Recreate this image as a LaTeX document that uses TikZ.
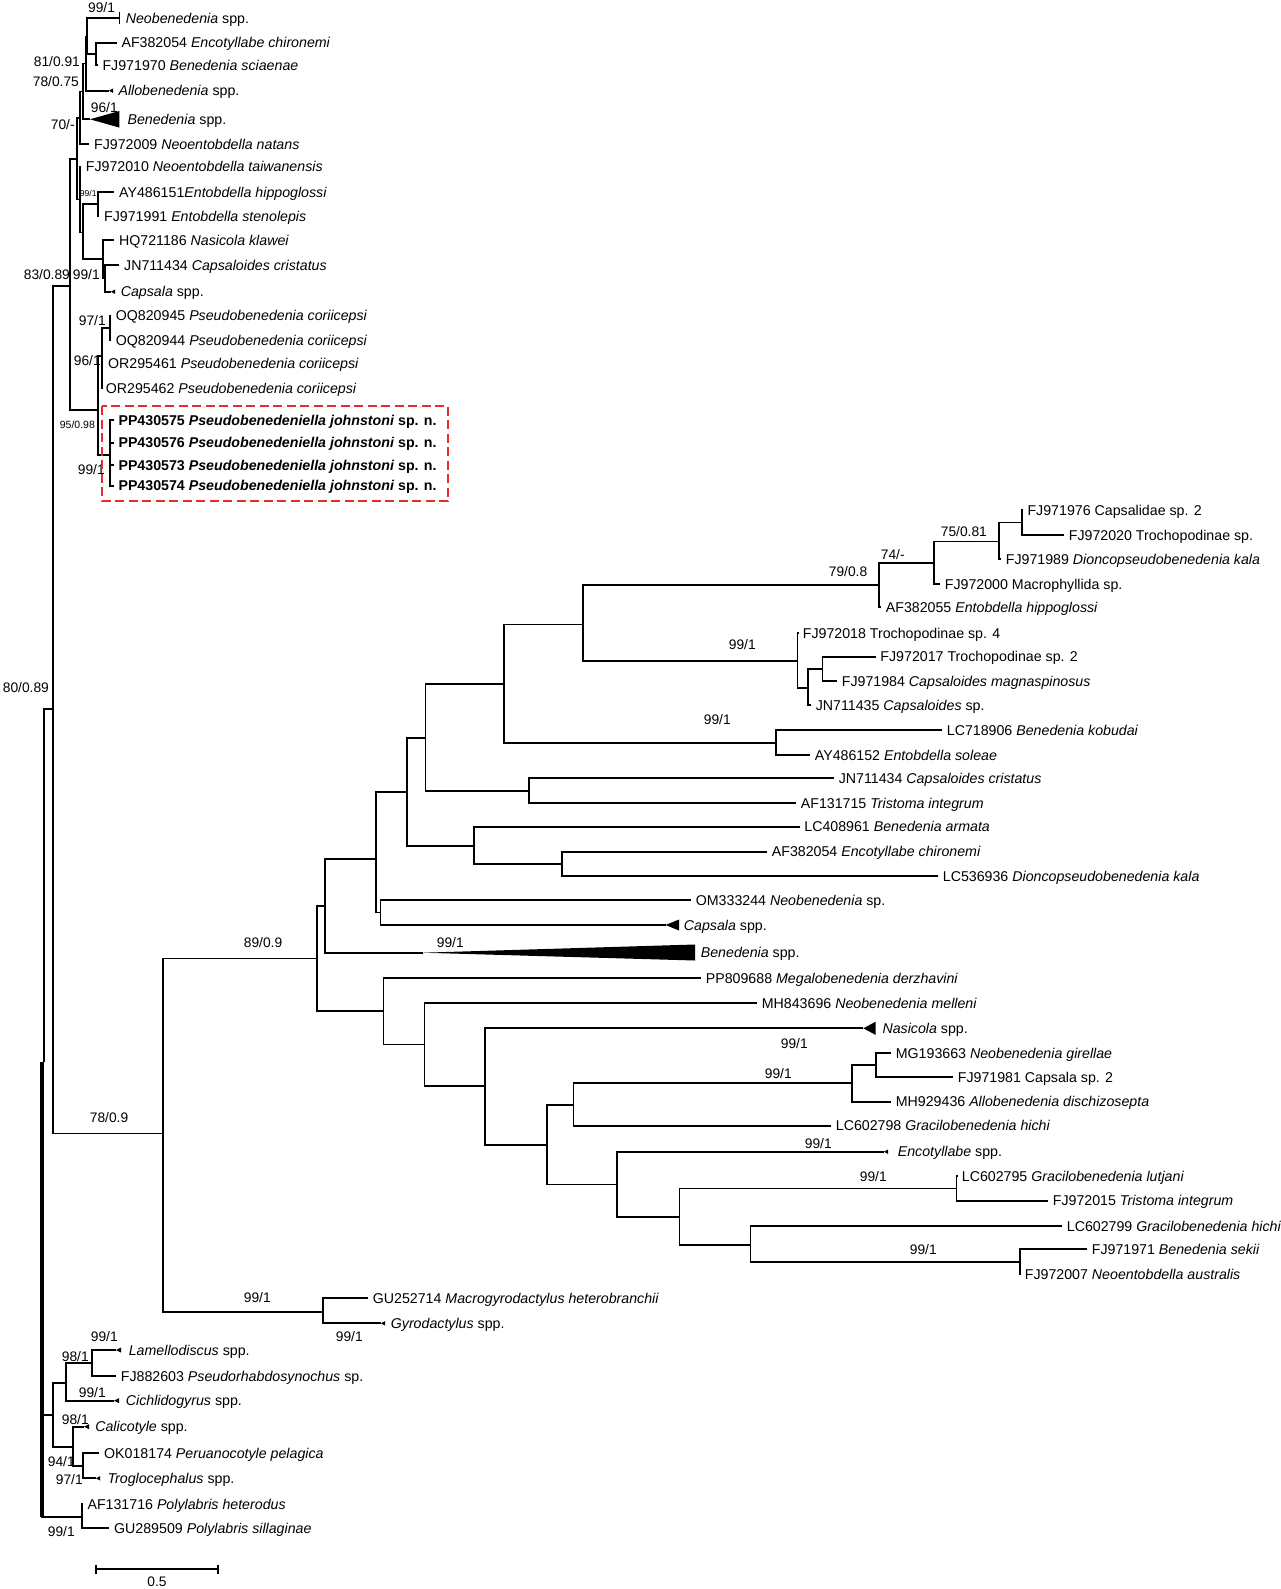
\documentclass[tikz,border=0pt]{standalone}
\usepackage{fontspec}
\setmainfont{Liberation Sans}
\definecolor{boxred}{RGB}{232,44,44}
\newcommand\tipfont{\fontsize{14.2}{16}\selectfont}
\newcommand\bsfont{\fontsize{13.8}{15}\selectfont}

\begin{document}
\begin{tikzpicture}[x=1pt,y=-1pt,line width=1.7pt,
  tip/.style={anchor=west,inner xsep=4pt,inner ysep=0pt,text height=10.2pt,text depth=0pt,font=\tipfont},
  pp/.style={tip,font=\tipfont\bfseries},
  bs/.style={anchor=west,inner sep=0pt,text height=9.9pt,text depth=0pt,font=\bsfont},
  bstiny/.style={bs,text height=6.2pt,font=\fontsize{8.6}{9}\selectfont},
  bssmall/.style={bs,text height=7.6pt,font=\fontsize{10.5}{11}\selectfont},
  box/.style={draw=boxred,line width=2.4pt,dash pattern=on 9pt off 4.5pt}]
\useasboundingbox (0,0) rectangle (1280,1589);

% internal nodes, upper clade
\coordinate (n80) at (53.3,709);
\coordinate (n83) at (70,286);
\coordinate (nF) at (77,159);
\coordinate (nE) at (80,118);
\coordinate (nD) at (82.7,91.5);
\coordinate (nC) at (86,63.5);
\coordinate (nA) at (87.3,36.5);
\coordinate (nB) at (96,54);
\coordinate (nG) at (80,199.6);
\coordinate (nH) at (83,232.5);
\coordinate (nI) at (98,204);
\coordinate (nJ) at (103,259);
\coordinate (nK) at (105,278.3);
\coordinate (n95) at (98,410);
\coordinate (n96) at (101.7,356);
\coordinate (n97) at (110,328);
\coordinate (nPP) at (110,455);
% internal nodes, long clade
\coordinate (n78) at (163.3,1133.5);
\coordinate (n89) at (317.2,958.5);
\coordinate (nX) at (324.9,906);
\coordinate (nZ) at (375.8,859);
\coordinate (nV) at (380.4,912.5);
\coordinate (nW) at (407.2,791.7);
\coordinate (nT) at (474,845.7);
\coordinate (nS) at (562,864);
\coordinate (nU) at (425.5,737.8);
\coordinate (nQ) at (528.9,791);
\coordinate (nR) at (503.7,684);
\coordinate (nO) at (776,742.7);
\coordinate (nP) at (583,624.5);
\coordinate (n79) at (879.3,585.3);
\coordinate (n74) at (934,563);
\coordinate (n75) at (999.3,541.5);
\coordinate (nCp) at (1021.7,522.5);
\coordinate (nA9) at (797.5,660.7);
\coordinate (nB9) at (808,688.3);
\coordinate (nC9) at (822.5,668.8);
\coordinate (nY) at (383.4,1011);
\coordinate (nN) at (424.4,1044.5);
\coordinate (nM) at (484.8,1086);
\coordinate (nL) at (547.3,1145);
\coordinate (nK2) at (573.6,1105);
\coordinate (nI2) at (851.7,1083.3);
\coordinate (nH2) at (876,1065);
\coordinate (nJ2) at (617.3,1184.5);
\coordinate (nG2) at (679.4,1217.3);
\coordinate (nF2) at (956.5,1188.5);
\coordinate (nE2) at (750.5,1245);
\coordinate (nD2) at (1019.8,1262);
\coordinate (nGy) at (323.3,1311.7);
% outgroups
\coordinate (root) at (42,1062);
\coordinate (rootT) at (44.3,1062);
\coordinate (nMo) at (53.3,1415);
\coordinate (n98) at (66,1383.3);
\coordinate (nLa) at (91.7,1363);
\coordinate (n94) at (72.7,1446.7);
\coordinate (n97b) at (83,1465.8);
\coordinate (nPo) at (81.7,1517);

% collapsed clades (apex points)
\coordinate (neoT) at (119.3,18.3);
\coordinate (alloT) at (109,90.7);
\coordinate (benT) at (90,119.3);
\coordinate (capT) at (111,291.7);
\coordinate (capT2) at (665.5,925);
\coordinate (benT2) at (422.5,952.7);
\coordinate (nasT) at (863.3,1028.3);
\coordinate (encT) at (884,1151.7);
\coordinate (gyrT) at (381,1323.3);
\coordinate (lamT) at (116,1350);
\coordinate (cicT) at (114,1400.7);
\coordinate (calT) at (84,1426.7);
\coordinate (troT) at (96,1478.3);

% tips
\node[tip] (t01) at (121,18.3) {\textit{Neobenedenia} spp.};
\node[tip] (t02) at (116.7,42.7) {AF382054 \textit{Encotyllabe chironemi}};
\node[tip] (t03) at (97.7,65.3) {FJ971970 \textit{Benedenia sciaenae}};
\node[tip] (t04) at (113.7,90.7) {\textit{Allobenedenia} spp.};
\node[tip] (t05) at (122.7,119.3) {\textit{Benedenia} spp.};
\node[tip] (t06) at (89.3,144) {FJ972009 \textit{Neoentobdella natans}};
\node[tip] (t07) at (81,166.7) {FJ972010 \textit{Neoentobdella taiwanensis}};
\node[tip] (t08) at (114.3,192.3) {AY486151\textit{Entobdella hippoglossi}};
\node[tip] (t09) at (99.3,216) {FJ971991 \textit{Entobdella stenolepis}};
\node[tip] (t10) at (114.3,240) {HQ721186 \textit{Nasicola klawei}};
\node[tip] (t11) at (119.3,265) {JN711434 \textit{Capsaloides cristatus}};
\node[tip] (t12) at (116,291.7) {\textit{Capsala} spp.};
\node[tip] (t13) at (111,315.7) {OQ820945 \textit{Pseudobenedenia coriicepsi}};
\node[tip] (t14) at (111,340) {OQ820944 \textit{Pseudobenedenia coriicepsi}};
\node[tip] (t15) at (103.3,363.3) {OR295461 \textit{Pseudobenedenia coriicepsi}};
\node[tip] (t16) at (101,388.3) {OR295462 \textit{Pseudobenedenia coriicepsi}};
\node[pp] (t17) at (113.7,420) {PP430575 \textit{Pseudobenedeniella johnstoni} sp. n.};
\node[pp] (t18) at (113.7,442.7) {PP430576 \textit{Pseudobenedeniella johnstoni} sp. n.};
\node[pp] (t19) at (113.7,465.3) {PP430573 \textit{Pseudobenedeniella johnstoni} sp. n.};
\node[pp] (t20) at (113.7,485.7) {PP430574 \textit{Pseudobenedeniella johnstoni} sp. n.};
\node[tip] (t21) at (1022.7,510) {FJ971976 Capsalidae sp. 2};
\node[tip] (t22) at (1064,535) {FJ972020 Trochopodinae sp.};
\node[tip] (t23) at (1001,559.3) {FJ971989 \textit{Dioncopseudobenedenia kala}};
\node[tip] (t24) at (940,584.3) {FJ972000 Macrophyllida sp.};
\node[tip] (t25) at (881,607.3) {AF382055 \textit{Entobdella hippoglossi}};
\node[tip] (t26) at (798,633.3) {FJ972018 Trochopodinae sp. 4};
\node[tip] (t27) at (875.6,656.7) {FJ972017 Trochopodinae sp. 2};
\node[tip] (t28) at (837,681) {FJ971984 \textit{Capsaloides magnaspinosus}};
\node[tip] (t29) at (811,705) {JN711435 \textit{Capsaloides} sp.};
\node[tip] (t30) at (942,730) {LC718906 \textit{Benedenia kobudai}};
\node[tip] (t31) at (810,755) {AY486152 \textit{Entobdella soleae}};
\node[tip] (t32) at (834,778.3) {JN711434 \textit{Capsaloides cristatus}};
\node[tip] (t33) at (796,803.3) {AF131715 \textit{Tristoma integrum}};
\node[tip] (t34) at (799.5,826.7) {LC408961 \textit{Benedenia armata}};
\node[tip] (t35) at (767,851.7) {AF382054 \textit{Encotyllabe chironemi}};
\node[tip] (t36) at (938,876) {LC536936 \textit{Dioncopseudobenedenia kala}};
\node[tip] (t37) at (691,900) {OM333244 \textit{Neobenedenia} sp.};
\node[tip] (t38) at (679,925) {\textit{Capsala} spp.};
\node[tip] (t39) at (696,952.7) {\textit{Benedenia} spp.};
\node[tip] (t40) at (701,978.3) {PP809688 \textit{Megalobenedenia derzhavini}};
\node[tip] (t41) at (757,1003.3) {MH843696 \textit{Neobenedenia melleni}};
\node[tip] (t42) at (877.7,1028.3) {\textit{Nasicola} spp.};
\node[tip] (t43) at (891,1053.3) {MG193663 \textit{Neobenedenia girellae}};
\node[tip] (t44) at (953,1077.3) {FJ971981 Capsala sp. 2};
\node[tip] (t45) at (891,1101.7) {MH929436 \textit{Allobenedenia dischizosepta}};
\node[tip] (t46) at (831,1125.7) {LC602798 \textit{Gracilobenedenia hichi}};
\node[tip] (t47) at (893,1151.7) {\textit{Encotyllabe} spp.};
\node[tip] (t48) at (957,1176) {LC602795 \textit{Gracilobenedenia lutjani}};
\node[tip] (t49) at (1048,1200.7) {FJ972015 \textit{Tristoma integrum}};
\node[tip] (t50) at (1062,1226) {LC602799 \textit{Gracilobenedenia hichi}};
\node[tip] (t51) at (1087,1249.3) {FJ971971 \textit{Benedenia sekii}};
\node[tip] (t52) at (1020,1274) {FJ972007 \textit{Neoentobdella australis}};
\node[tip] (t53) at (368,1298.3) {GU252714 \textit{Macrogyrodactylus heterobranchii}};
\node[tip] (t54) at (386,1323.3) {\textit{Gyrodactylus} spp.};
\node[tip] (t55) at (124,1350) {\textit{Lamellodiscus} spp.};
\node[tip] (t56) at (116,1376) {FJ882603 \textit{Pseudorhabdosynochus} sp.};
\node[tip] (t57) at (121,1400.7) {\textit{Cichlidogyrus} spp.};
\node[tip] (t58) at (90.5,1426.7) {\textit{Calicotyle} spp.};
\node[tip] (t59) at (99.3,1453.3) {OK018174 \textit{Peruanocotyle pelagica}};
\node[tip] (t60) at (102.7,1478.3) {\textit{Troglocephalus} spp.};
\node[tip] (t61) at (82.7,1504) {AF131716 \textit{Polylabris heterodus}};
\node[tip] (t62) at (109.3,1528.3) {GU289509 \textit{Polylabris sillaginae}};

% branches
\draw (rootT) |- (n80);
\draw[line width=4pt] (root) -- (root |- nPo);
\draw (root) |- (nMo) (root) |- (nPo);
\draw (n80) |- (n83) (n80) |- (n78);
\draw (n83) |- (nF) (n83) |- (n95);
\draw (nF) |- (nE) (nF) |- (nG);
\draw (nE) |- (nD) (nE) |- (t06.west);
\draw (nD) |- (nC) (nD) |- (benT);
\draw (nC) |- (nA) (nC) |- (alloT);
\draw (nA) |- (neoT) (nA) |- (nB);
\draw (nB) |- (t02.west) (nB) |- (t03.west);
\draw (nG) |- (t07.west) (nG) |- (nH);
\draw (nH) |- (nI) (nH) |- (nJ);
\draw (nI) |- (t08.west) (nI) |- (t09.west);
\draw (nJ) |- (t10.west) (nJ) |- (nK);
\draw (nK) |- (t11.west) (nK) |- (capT);
\draw (n95) |- (n96) (n95) |- (nPP);
\draw (n96) |- (n97) (n96) |- (t15.west) (n96) |- (t16.west);
\draw (n97) |- (t13.west) (n97) |- (t14.west);
\draw (nPP) |- (t17.west) (nPP) |- (t18.west) (nPP) |- (t19.west) (nPP) |- (t20.west);
\draw (n78) |- (n89) (n78) |- (nGy);
\draw (n89) |- (nX) (n89) |- (nY);
\draw (nX) |- (nZ) (nX) |- (benT2);
\draw (nZ) |- (nW) (nZ) |- (nV);
\draw (nV) |- (t37.west) (nV) |- (capT2);
\draw (nW) |- (nU) (nW) |- (nT);
\draw (nT) |- (t34.west) (nT) |- (nS);
\draw (nS) |- (t35.west) (nS) |- (t36.west);
\draw (nU) |- (nR) (nU) |- (nQ);
\draw (nQ) |- (t32.west) (nQ) |- (t33.west);
\draw (nR) |- (nP) (nR) |- (nO);
\draw (nO) |- (t30.west) (nO) |- (t31.west);
\draw (nP) |- (n79) (nP) |- (nA9);
\draw (n79) |- (n74) (n79) |- (t25.west);
\draw (n74) |- (n75) (n74) |- (t24.west);
\draw (n75) |- (nCp) (n75) |- (t23.west);
\draw (nCp) |- (t21.west) (nCp) |- (t22.west);
\draw (nA9) |- (t26.west) (nA9) |- (nB9);
\draw (nB9) |- (nC9) (nB9) |- (t29.west);
\draw (nC9) |- (t27.west) (nC9) |- (t28.west);
\draw (nY) |- (t40.west) (nY) |- (nN);
\draw (nN) |- (t41.west) (nN) |- (nM);
\draw (nM) |- (nasT) (nM) |- (nL);
\draw (nL) |- (nK2) (nL) |- (nJ2);
\draw (nK2) |- (nI2) (nK2) |- (t46.west);
\draw (nI2) |- (nH2) (nI2) |- (t45.west);
\draw (nH2) |- (t43.west) (nH2) |- (t44.west);
\draw (nJ2) |- (encT) (nJ2) |- (nG2);
\draw (nG2) |- (nF2) (nG2) |- (nE2);
\draw (nF2) |- (t48.west) (nF2) |- (t49.west);
\draw (nE2) |- (t50.west) (nE2) |- (nD2);
\draw (nD2) |- (t51.west) (nD2) |- (t52.west);
\draw (nGy) |- (t53.west) (nGy) |- (gyrT);
\draw (nMo) |- (n98) (nMo) |- (n94);
\draw (n98) |- (nLa) (n98) |- (cicT);
\draw (nLa) |- (lamT) (nLa) |- (t56.west);
\draw (n94) |- (calT) (n94) |- (n97b);
\draw (n97b) |- (t59.west) (n97b) |- (troT);
\draw (nPo) |- (t61.west) (nPo) |- (t62.west);

% collapsed clade shapes
\draw[line width=1pt] (neoT) ++(0,-6.5) -- ++(0,12);
\fill (benT) -- ++(29.3,-8.3) -- ++(0,16.6) -- cycle;
\fill (benT2) -- ++(272.5,-8.2) -- ++(0,16) -- cycle;
\fill (capT2) -- ++(13.5,-5.5) -- ++(0,11) -- cycle;
\fill (nasT) -- ++(12.2,-6.5) -- ++(0,13) -- cycle;
\fill (alloT) -- ++(4,-2.2) -- ++(0,4.4) -- cycle;
\fill (capT) -- ++(4,-2.2) -- ++(0,4.4) -- cycle;
\fill (encT) -- ++(4,-2.2) -- ++(0,4.4) -- cycle;
\fill (gyrT) -- ++(4,-2.2) -- ++(0,4.4) -- cycle;
\fill (lamT) -- ++(5,-2.5) -- ++(0,5) -- cycle;
\fill (cicT) -- ++(5,-2.5) -- ++(0,5) -- cycle;
\fill (calT) -- ++(5,-2.5) -- ++(0,5) -- cycle;
\fill (troT) -- ++(4,-2.2) -- ++(0,4.4) -- cycle;

% support values
\node[bs] (b01) at (87.3,8) {99/1};
\node[bs] (b02) at (33,62) {81/0.91};
\node[bs] (b03) at (32,81.7) {78/0.75};
\node[bs] (b04) at (90,108) {96/1};
\node[bs] (b05) at (50,125) {70/-};
\node[bstiny] (b06) at (79,193) {99/1};
\node[bs] (b07) at (23,275) {83/0.89};
\node[bs] (b08) at (72,275) {99/1};
\node[bs] (b09) at (78,320.7) {97/1};
\node[bs] (b10) at (73,361) {96/1};
\node[bssmall] (b11) at (59,425) {95/0.98};
\node[bs] (b12) at (77,470) {99/1};
\node[bs] (b13) at (2,688) {80/0.89};
\node[bs] (b14) at (89,1118) {78/0.9};
\node[bs] (b15) at (243,943) {89/0.9};
\node[bs] (b16) at (436,943) {99/1};
\node[bs] (b17) at (828,571.7) {79/0.8};
\node[bs] (b18) at (880,555) {74/-};
\node[bs] (b19) at (940,531.7) {75/0.81};
\node[bs] (b20) at (728,645) {99/1};
\node[bs] (b21) at (703,720) {99/1};
\node[bs] (b22) at (780,1043.3) {99/1};
\node[bs] (b23) at (764,1073.3) {99/1};
\node[bs] (b24) at (804,1143.3) {99/1};
\node[bs] (b25) at (859,1176.7) {99/1};
\node[bs] (b26) at (909,1249.3) {99/1};
\node[bs] (b27) at (243,1298) {99/1};
\node[bs] (b28) at (335,1336.7) {99/1};
\node[bs] (b29) at (90,1336.7) {99/1};
\node[bs] (b30) at (61,1356.7) {98/1};
\node[bs] (b31) at (78,1392.7) {99/1};
\node[bs] (b32) at (61,1420) {98/1};
\node[bs] (b33) at (47,1461.7) {94/1};
\node[bs] (b34) at (55,1480) {97/1};
\node[bs] (b35) at (47,1532) {99/1};

% new species box
\draw[box] (102,406) rectangle (448,501);

% scale bar
\coordinate (sbL) at (96,1569);
\coordinate (sbR) at (218,1569);
\draw[line width=1.4pt] (sbL) -- (sbR);
\draw[line width=1.4pt] (sbL) ++(0,-4.5) -- ++(0,9) (sbR) ++(0,-4.5) -- ++(0,9);
\node[bs,anchor=center] (sbT) at (157,1582) {0.5};
\end{tikzpicture}
\end{document}
